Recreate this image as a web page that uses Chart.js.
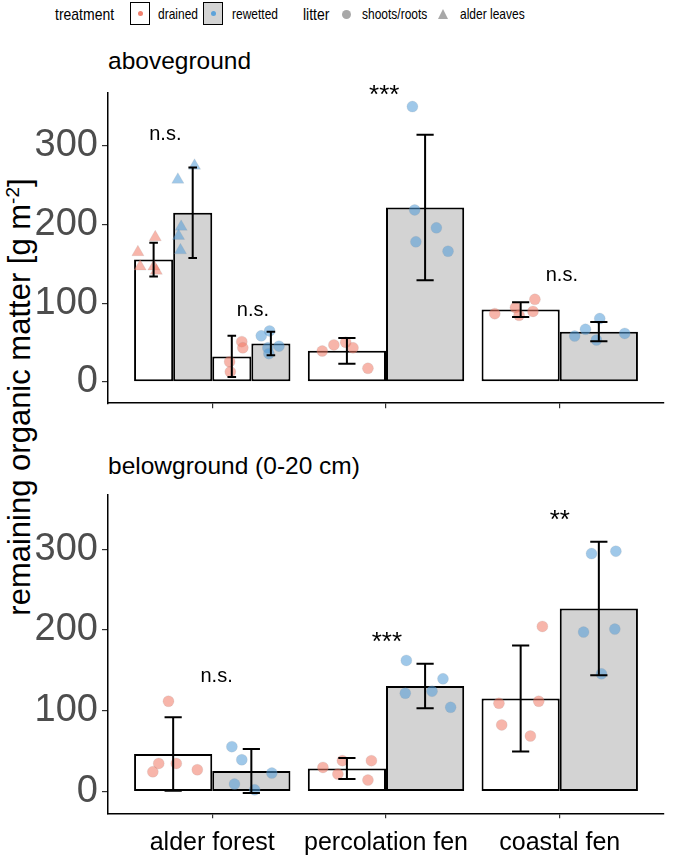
<!DOCTYPE html>
<html>
<head>
<meta charset="utf-8">
<script src="https://cdn.jsdelivr.net/npm/chart.js@4.4.0/dist/chart.umd.min.js"></script>
<style>
  body { margin: 0; background: #fff; font-family: "Liberation Sans", Arial, sans-serif; }
  #page { position: relative; width: 685px; height: 863px; overflow: hidden; }
  .box { position: absolute; }
  .lg { position: absolute; top: 14px; transform: translateY(-50%) scaleY(1.2); color: #000; white-space: nowrap; }
  .key { position: absolute; top: 2px; width: 20px; height: 23px; box-sizing: border-box; border: 1.6px solid #000; }
  .key i { position: absolute; left: 50%; top: 50%; width: 5px; height: 5px; margin: -2.5px 0 0 -2.5px; border-radius: 50%; }
  .ptitle { position: absolute; left: 108px; font-size: 24.5px; color: #000; transform: translateY(-50%); white-space: nowrap; }
  #ytitle { position: absolute; left: 20px; top: 397px; font-size: 31px; white-space: nowrap;
            transform: translate(-50%, -50%) rotate(-90deg); }
</style>
</head>
<body>
<div id="page">
  <span class="lg" style="left:55px;font-size:14px">treatment</span>
  <div class="key" style="left:130px;background:#fff"><i style="background:#F0806E"></i></div>
  <span class="lg" style="left:158px;font-size:12px">drained</span>
  <div class="key" style="left:203px;background:#D3D3D3"><i style="background:#5DA3DA"></i></div>
  <span class="lg" style="left:232px;font-size:12px">rewetted</span>
  <span class="lg" style="left:303px;font-size:14px">litter</span>
  <div class="box" style="left:342px;top:10px;width:9px;height:9px;border-radius:50%;background:#A8A8A8"></div>
  <span class="lg" style="left:362px;font-size:12px">shoots/roots</span>
  <div class="box" style="left:438px;top:9px;width:0;height:0;border-left:5.5px solid transparent;border-right:5.5px solid transparent;border-bottom:10px solid #A8A8A8"></div>
  <span class="lg" style="left:460px;font-size:12px">alder leaves</span>

  <span class="ptitle" style="top:61px">aboveground</span>
  <span class="ptitle" style="top:466px">belowground (0-20 cm)</span>
  <div id="ytitle">remaining organic matter [g m<sup style="font-size:19px">-2</sup>]</div>

  <div class="box" style="left:0;top:0;width:685px;height:430px"><canvas id="above"></canvas></div>
  <div class="box" style="left:0;top:430px;width:685px;height:433px"><canvas id="below"></canvas></div>
</div>
<script>
// categories and axis ticks
const categories = ['alder forest', 'percolation fen', 'coastal fen'];
const catX = [1, 2, 3];
const yTicks = [0, 100, 200, 300];

// aboveground: bar means and sd (alder leaves only in alder forest)
const aboveDrainedLeaves = [155.2, null, null];
const aboveDrainedLeavesSd = [21.5, null, null];
const aboveRewettedLeaves = [214.7, null, null];
const aboveRewettedLeavesSd = [57.5, null, null];
const aboveDrainedShoots = [32.4, 39.4, 91.8];
const aboveDrainedShootsSd = [26.2, 16.3, 9.3];
const aboveRewettedShoots = [48.7, 221.3, 63.8];
const aboveRewettedShootsSd = [14.9, 92.2, 12.2];

// aboveground: single plots (x = category position incl. jitter)
const aboveDrainedLeavesX = [0.572, 0.672, 0.585, 0.664, 0.678];
const aboveDrainedLeavesY = [164.6, 183.6, 146.4, 146.4, 141.1];
const aboveRewettedLeavesX = [0.802, 0.898, 0.821, 0.806, 0.817];
const aboveRewettedLeavesY = [256.6, 274.3, 196.8, 185.3, 167.0];
const aboveDrainedShootsX = [1.170, 1.176, 1.100, 1.104, 1.633, 1.700, 1.768, 1.810, 1.896, 2.626, 2.745, 2.857, 2.846, 2.766];
const aboveDrainedShootsY = [51.1, 43.3, 25.6, 12.8, 39.2, 47.0, 50.3, 43.3, 17.3, 86.6, 94.4, 104.8, 89.5, 84.5];
const aboveRewettedShootsX = [1.330, 1.282, 1.384, 1.320, 1.326, 2.152, 2.165, 2.290, 2.172, 2.357, 3.086, 3.148, 3.230, 3.211, 3.374];
const aboveRewettedShootsY = [64.7, 58.5, 45.4, 43.3, 35.9, 349.4, 218.2, 195.5, 177.8, 165.8, 58.2, 66.8, 80.4, 53.2, 61.5];

// belowground (0-20 cm)
const belowDrained = [46.4, 28.4, 115.2];
const belowDrainedSd = [45.4, 13.0, 65.6];
const belowRewetted = [25.3, 130.5, 226.5];
const belowRewettedSd = [27.3, 27.5, 82.5];
const belowDrainedX = [0.748, 0.692, 0.658, 0.793, 0.914, 1.637, 1.749, 1.723, 1.916, 1.896, 2.900, 2.650, 2.879, 2.666, 2.831];
const belowDrainedY = [111.7, 34.7, 24.4, 34.7, 26.9, 29.8, 38.1, 21.6, 38.1, 14.1, 204.3, 109.2, 111.7, 82.4, 68.7];
const belowRewettedX = [1.113, 1.170, 1.343, 1.128, 1.244, 2.117, 2.328, 2.111, 2.265, 2.372, 3.183, 3.323, 3.137, 3.317, 3.240];
const belowRewettedY = [55.5, 39.3, 22.8, 9.2, 2.1, 162.2, 139.5, 121.6, 124.1, 104.2, 294.5, 297.4, 197.3, 201.0, 145.7];

// significance labels
const aboveSigText = ['n.s.', 'n.s.', '***', 'n.s.'];
const aboveSigX = [0.73, 1.234, 1.99, 3.012];
const aboveSigY = [314, 91, 363, 134.5];
const belowSigText = ['n.s.', '***', '**'];
const belowSigX = [1.025, 2.005, 3.0];
const belowSigY = [142, 184, 335];

const drainedFill = '#FFFFFF';
const rewettedFill = '#D3D3D3';
const drainedPt = 'rgba(240, 120, 100, 0.55)';
const rewettedPt = 'rgba(80, 155, 215, 0.55)';

const pairs = (xs, ys) => xs.map((x, i) => ({ x: x, y: ys[i] }));

function barSet(label, means, sd, fill, stack) {
  return {
    type: 'bar', label: label, stack: stack, skipNull: true,
    data: pairs(catX, means), sd: sd,
    backgroundColor: fill, borderColor: '#000', borderWidth: 2, borderSkipped: false,
    categoryPercentage: 0.9, barPercentage: 1.0, order: 2
  };
}

function pointSet(label, xs, ys, color, style) {
  return {
    type: 'scatter', label: label, data: pairs(xs, ys),
    backgroundColor: color, borderColor: 'rgba(150,150,150,0.25)', borderWidth: 0.6,
    pointStyle: style, pointRadius: style === 'triangle' ? 7 : 5.5, order: 1
  };
}

// error bars and significance labels drawn on top via the scales
const extrasPlugin = {
  id: 'extras',
  afterDatasetsDraw(chart, args, opts) {
    const ctx = chart.ctx;
    const xs = chart.scales.x, ys = chart.scales.y;
    ctx.save();
    ctx.strokeStyle = '#000';
    ctx.lineWidth = 2;
    chart.data.datasets.forEach((ds, i) => {
      if (!ds.sd) return;
      chart.getDatasetMeta(i).data.forEach((bar, j) => {
        const m = ds.data[j].y;
        if (m == null) return;
        const top = ys.getPixelForValue(m + ds.sd[j]);
        const bot = ys.getPixelForValue(m - ds.sd[j]);
        const hw = bar.width * 0.11;
        ctx.beginPath();
        ctx.moveTo(bar.x, top); ctx.lineTo(bar.x, bot);
        ctx.moveTo(bar.x - hw, top); ctx.lineTo(bar.x + hw, top);
        ctx.moveTo(bar.x - hw, bot); ctx.lineTo(bar.x + hw, bot);
        ctx.stroke();
      });
    });
    ctx.fillStyle = '#000';
    ctx.textAlign = 'center';
    ctx.textBaseline = 'middle';
    opts.text.forEach((t, k) => {
      ctx.font = (t.indexOf('*') >= 0 ? '26px' : '20px') + ' "Liberation Sans", Arial, sans-serif';
      ctx.fillText(t, xs.getPixelForValue(opts.x[k]), ys.getPixelForValue(opts.y[k]));
    });
    ctx.restore();
  }
};

function makeChart(id, datasets, sig, showLabels, padTop, xHeight) {
  new Chart(document.getElementById(id), {
    type: 'bar',
    data: { datasets: datasets },
    plugins: [extrasPlugin],
    options: {
      responsive: true,
      maintainAspectRatio: false,
      animation: false,
      layout: { padding: { top: padTop, right: 21, bottom: 0, left: 0 } },
      plugins: {
        legend: { display: false },
        tooltip: { enabled: false },
        extras: sig
      },
      scales: {
        x: {
          type: 'linear', min: 0.4, max: 3.6, offset: false,
          afterBuildTicks: (s) => { s.ticks = catX.map(v => ({ value: v })); },
          afterFit: (s) => { s.height = xHeight; },
          ticks: {
            display: showLabels, padding: 10, color: '#000',
            font: { size: 25, family: '"Liberation Sans", Arial, sans-serif' },
            callback: (v) => categories[catX.indexOf(v)]
          },
          grid: { display: true, offset: false, drawOnChartArea: false, drawTicks: true, tickLength: 5, color: '#333', lineWidth: 1.2 },
          border: { display: true, color: '#000', width: 1.5 }
        },
        y: {
          min: -27, max: 367,
          afterBuildTicks: (s) => { s.ticks = yTicks.map(v => ({ value: v })); },
          afterFit: (s) => { s.width = 108; },
          ticks: {
            padding: 4, color: '#4D4D4D',
            font: { size: 38, family: '"Liberation Sans", Arial, sans-serif' }
          },
          grid: { display: true, drawOnChartArea: false, drawTicks: true, tickLength: 6, color: '#333', lineWidth: 1.2 },
          border: { display: true, color: '#000', width: 1.5 }
        }
      }
    }
  });
}

makeChart('above', [
  barSet('drained leaves', aboveDrainedLeaves, aboveDrainedLeavesSd, drainedFill, 'a'),
  barSet('rewetted leaves', aboveRewettedLeaves, aboveRewettedLeavesSd, rewettedFill, 'b'),
  barSet('drained shoots', aboveDrainedShoots, aboveDrainedShootsSd, drainedFill, 'c'),
  barSet('rewetted shoots', aboveRewettedShoots, aboveRewettedShootsSd, rewettedFill, 'd'),
  pointSet('drained leaves pts', aboveDrainedLeavesX, aboveDrainedLeavesY, drainedPt, 'triangle'),
  pointSet('rewetted leaves pts', aboveRewettedLeavesX, aboveRewettedLeavesY, rewettedPt, 'triangle'),
  pointSet('drained shoots pts', aboveDrainedShootsX, aboveDrainedShootsY, drainedPt, 'circle'),
  pointSet('rewetted shoots pts', aboveRewettedShootsX, aboveRewettedShootsY, rewettedPt, 'circle')
], { text: aboveSigText, x: aboveSigX, y: aboveSigY }, false, 92.7, 20);

makeChart('below', [
  barSet('drained', belowDrained, belowDrainedSd, drainedFill, 'a'),
  barSet('rewetted', belowRewetted, belowRewettedSd, rewettedFill, 'b'),
  pointSet('drained pts', belowDrainedX, belowDrainedY, drainedPt, 'circle'),
  pointSet('rewetted pts', belowRewettedX, belowRewettedY, rewettedPt, 'circle')
], { text: belowSigText, x: belowSigX, y: belowSigY }, true, 65, 49.7);
</script>
</body>
</html>
